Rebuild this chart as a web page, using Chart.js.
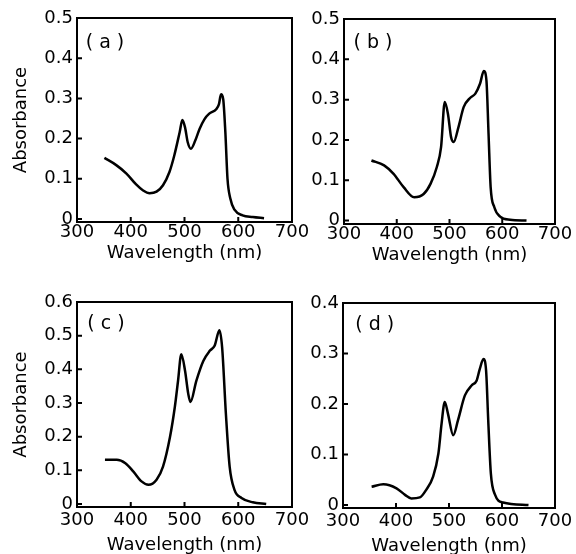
<!DOCTYPE html>
<html>
<head>
<meta charset="utf-8">
<script src="https://cdn.jsdelivr.net/npm/chart.js@4/dist/chart.umd.min.js"></script>
<style>
  html, body { margin: 0; padding: 0; background: #fff; }
  #wrap { position: relative; width: 576px; height: 554px; }
  #wrap canvas { position: absolute; left: 0; top: 0; }
</style>
</head>
<body>
<div id="wrap">
  <canvas id="chartA" width="576" height="554"></canvas>
  <canvas id="chartB" width="576" height="554"></canvas>
  <canvas id="chartC" width="576" height="554"></canvas>
  <canvas id="chartD" width="576" height="554"></canvas>
</div>
<script>
// wavelength (nm) / absorbance
const waveA = [351, 373, 392, 410, 423, 435, 448, 460, 472, 481, 491, 496, 501, 506, 512, 520, 528, 537, 546, 559, 564, 568, 572, 576, 580, 585, 593, 608, 627, 648];
const absA  = [0.152, 0.134, 0.113, 0.086, 0.071, 0.064, 0.068, 0.084, 0.117, 0.158, 0.216, 0.246, 0.228, 0.191, 0.175, 0.195, 0.224, 0.248, 0.262, 0.273, 0.285, 0.310, 0.298, 0.216, 0.100, 0.052, 0.023, 0.009, 0.005, 0.002];

const waveB = [352, 376, 394, 413, 433, 451, 464, 476, 484, 491, 497, 503, 508, 517, 527, 539, 549, 558, 565, 570, 574, 578, 585, 596, 615, 646];
const absB  = [0.149, 0.137, 0.116, 0.083, 0.058, 0.066, 0.091, 0.133, 0.182, 0.294, 0.265, 0.207, 0.195, 0.232, 0.282, 0.304, 0.315, 0.340, 0.371, 0.348, 0.216, 0.083, 0.033, 0.010, 0.002, 0.000];

const waveC = [352, 374, 390, 405, 420, 433, 448, 460, 473, 482, 488, 494, 501, 507, 511, 522, 535, 547, 556, 565, 570, 577, 584, 593, 606, 627, 652];
const absC  = [0.131, 0.131, 0.121, 0.096, 0.067, 0.057, 0.072, 0.111, 0.199, 0.288, 0.366, 0.445, 0.396, 0.327, 0.303, 0.366, 0.425, 0.455, 0.470, 0.516, 0.465, 0.268, 0.111, 0.042, 0.018, 0.005, 0.000];

const waveD = [354, 376, 401, 417, 429, 445, 457, 470, 480, 486, 492, 498, 508, 517, 530, 543, 552, 558, 565, 570, 574, 579, 587, 602, 650];
const absD  = [0.036, 0.041, 0.033, 0.020, 0.013, 0.015, 0.030, 0.056, 0.102, 0.161, 0.204, 0.181, 0.138, 0.168, 0.217, 0.237, 0.246, 0.269, 0.289, 0.266, 0.168, 0.062, 0.020, 0.005, 0.000];

const xTicks = [300, 400, 500, 600, 700];
const yTicksAB = [0, 0.1, 0.2, 0.3, 0.4, 0.5];
const yTicksC = [0, 0.1, 0.2, 0.3, 0.4, 0.5, 0.6];
const yTicksD = [0, 0.1, 0.2, 0.3, 0.4];

const FONT = { family: "'DejaVu Sans', sans-serif", size: 18 };

// box around plot area plus inward tick marks, and the (a)..(d) tag
const framePlugin = {
  id: 'frame',
  afterDraw(chart, args, opts) {
    const { ctx, chartArea: a, scales: { x, y } } = chart;
    ctx.save();
    ctx.strokeStyle = '#000';
    ctx.lineWidth = 2;
    ctx.strokeRect(a.left, a.top, a.right - a.left, a.bottom - a.top);
    ctx.beginPath();
    x.ticks.forEach(t => {
      const px = x.getPixelForValue(t.value);
      ctx.moveTo(px, a.bottom);
      ctx.lineTo(px, a.bottom - 5);
    });
    y.ticks.forEach(t => {
      const py = y.getPixelForValue(t.value);
      ctx.moveTo(a.left, py);
      ctx.lineTo(a.left + 5, py);
    });
    ctx.stroke();
    ctx.fillStyle = '#000';
    ctx.font = "19px 'DejaVu Sans', sans-serif";
    ctx.textAlign = 'center';
    ctx.textBaseline = 'middle';
    ctx.fillText(opts.tag, x.getPixelForValue(opts.tagX), y.getPixelForValue(opts.tagY));
    ctx.restore();
  }
};

function makePanel(id, wave, abs, cfg) {
  const points = wave.map((w, i) => ({ x: w, y: abs[i] }));
  return new Chart(document.getElementById(id), {
    type: 'line',
    data: {
      datasets: [{
        data: points,
        borderColor: '#000',
        borderWidth: 2.5,
        pointRadius: 0,
        cubicInterpolationMode: 'monotone',
        fill: false
      }]
    },
    options: {
      responsive: false,
      animation: false,
      events: [],
      layout: { padding: cfg.padding },
      plugins: {
        legend: { display: false },
        tooltip: { enabled: false },
        frame: { tag: cfg.tag, tagX: cfg.tagX, tagY: cfg.tagY }
      },
      scales: {
        x: {
          type: 'linear',
          min: 300,
          max: 700,
          grid: { display: false, drawTicks: false },
          border: { display: false },
          afterBuildTicks: s => { s.ticks = xTicks.map(v => ({ value: v })); },
          afterFit: s => { s.height = cfg.xHeight; },
          ticks: { color: '#000', font: FONT, padding: cfg.xTickPad, maxRotation: 0 },
          title: {
            display: true, text: 'Wavelength (nm)', color: '#000', font: FONT,
            padding: { top: 0, bottom: cfg.xTitlePad }
          }
        },
        y: {
          type: 'linear',
          min: cfg.yMin,
          max: cfg.yMax,
          grid: { display: false, drawTicks: false },
          border: { display: false },
          afterBuildTicks: s => { s.ticks = cfg.yTicks.map(v => ({ value: v })); },
          afterFit: s => { s.width = cfg.yWidth; },
          ticks: {
            color: '#000', font: FONT, padding: 4,
            callback: v => v === 0 ? '0' : v.toFixed(1)
          },
          title: {
            display: cfg.yTitle, text: 'Absorbance', color: '#000', font: FONT,
            padding: { top: 0, bottom: 0 }
          }
        }
      }
    },
    plugins: [framePlugin]
  });
}

makePanel('chartA', waveA, absA, {
  padding: { left: 11, top: 18, right: 284, bottom: 554 - 222 - 45 },
  yWidth: 66, xHeight: 45, xTickPad: 0, xTitlePad: 3, yTitle: true,
  yMin: -0.0075, yMax: 0.5, yTicks: yTicksAB,
  tag: '( a )', tagX: 352, tagY: 0.438
});

makePanel('chartB', waveB, absB, {
  padding: { left: 344 - 40, top: 19, right: 576 - 555, bottom: 554 - 224 - 45 },
  yWidth: 40, xHeight: 45, xTickPad: 0, xTitlePad: 3, yTitle: false,
  yMin: -0.0085, yMax: 0.5, yTicks: yTicksAB,
  tag: '( b )', tagX: 355, tagY: 0.44
});

makePanel('chartC', waveC, absC, {
  padding: { left: 11, top: 302, right: 284, bottom: 554 - 507 - 52 },
  yWidth: 66, xHeight: 52, xTickPad: 3, xTitlePad: 3, yTitle: true,
  yMin: -0.009, yMax: 0.6, yTicks: yTicksC,
  tag: '( c )', tagX: 354, tagY: 0.534
});

makePanel('chartD', waveD, absD, {
  padding: { left: 343 - 40, top: 303, right: 576 - 555, bottom: 554 - 508 - 52 },
  yWidth: 40, xHeight: 52, xTickPad: 3, xTitlePad: 3, yTitle: false,
  yMin: -0.006, yMax: 0.4, yTicks: yTicksD,
  tag: '( d )', tagX: 360, tagY: 0.356
});
</script>
</body>
</html>
